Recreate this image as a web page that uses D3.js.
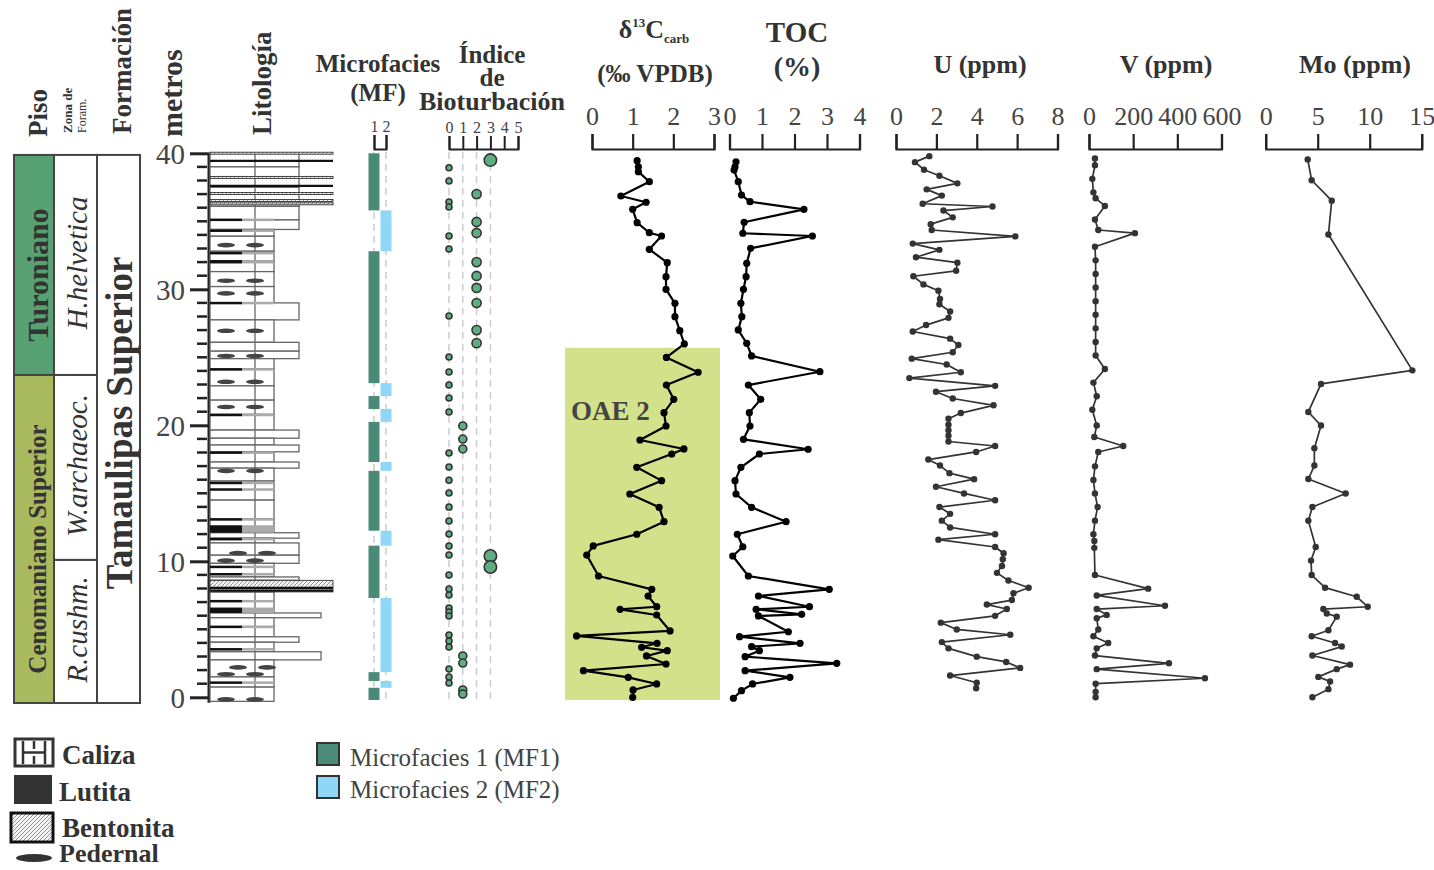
<!DOCTYPE html>
<html>
<head>
<meta charset="utf-8">
<script src="https://cdnjs.cloudflare.com/ajax/libs/d3/7.8.5/d3.min.js"></script>
<style>
  body { margin: 0; background: #fff; }
  svg text { font-family: "Liberation Serif", "Times New Roman", serif; }
</style>
</head>
<body>
<svg id="chart" width="1434" height="870"></svg>
<script>
// ---- data (depth in metres, value) ----
const depthTicks = [0, 10, 20, 30, 40]

const pisos = [
  { name: "Turoniano", top: 39.88, base: 23.7, color: "#57a173" },
  { name: "Cenomaniano Superior", top: 23.7, base: -0.42, color: "#a9b95e" }
]
const zonas = [
  { name: "H.helvetica", top: 39.88, base: 23.7 },
  { name: "W.archaeoc.", top: 23.7, base: 10.1 },
  { name: "R.cushm.", top: 10.1, base: -0.42 }
]
const formaciones = [{ name: "Tamaulipas Superior", top: 39.88, base: -0.42 }]

// limestone beds: [base, top, width class]
const calizaBeds = [
  [39.0, 40.0, 2], [38.25, 39.0, 2], [37.5, 38.25, 2], [36.1, 37.5, 2], [35.1, 36.1, 2],
  [34.4, 35.1, 2], [33.9, 34.4, 1], [32.8, 33.9, 1], [32.1, 32.8, 1], [31.3, 32.1, 1],
  [30.2, 31.3, 1], [29.0, 30.2, 1], [27.75, 29.0, 2], [26.1, 27.75, 1], [25.45, 26.1, 2],
  [24.9, 25.45, 2], [24.15, 24.9, 1], [22.9, 24.15, 1], [21.85, 22.9, 1], [20.8, 21.85, 1],
  [19.65, 20.8, 1], [19.05, 19.65, 2], [18.55, 19.05, 1], [18.05, 18.55, 2], [17.3, 18.05, 1],
  [16.85, 17.3, 2], [15.9, 16.85, 1], [14.5, 15.9, 1], [13.1, 14.5, 1], [12.1, 13.1, 1],
  [11.7, 12.1, 2], [11.35, 11.7, 1], [10.45, 11.35, 2], [9.85, 10.45, 2], [8.85, 9.85, 1],
  [8.6, 8.85, 2], [7.75, 8.6, 1], [7.1, 7.75, 1], [6.2, 7.1, 1], [5.85, 6.2, 3],
  [5.2, 5.85, 1], [4.45, 5.2, 1], [4.05, 4.45, 2], [3.35, 4.05, 1], [2.75, 3.35, 3],
  [1.5, 2.75, 1], [0.75, 1.5, 1], [-0.3, 0.75, 1]
]
// shale bands: [base, top]
const lutitas = [
  [35.05, 35.2], [34.25, 34.4], [32.6, 32.75], [31.9, 32.15], [28.93, 29.08], [24.06, 24.2],
  [20.7, 20.85], [17.93, 18.08], [15.7, 15.85], [15.22, 15.37], [13.02, 13.17], [12.1, 12.65],
  [11.6, 11.72], [9.53, 9.68], [9.0, 9.14], [7.03, 7.16], [6.2, 6.6], [5.13, 5.27],
  [3.48, 3.62], [1.03, 1.17]
]
// bentonite layers: [base, top]
const bentonitas = [
  [39.98, 40.08], [38.2, 38.3], [37.02, 37.12], [36.5, 36.6], [36.22, 36.36], [7.75, 8.6]
]
const bentLines = [39.45, 37.6, 8.05, 7.85]
// chert nodules: [depth, shifted]
const pedernales = [
  [33.25, 0], [30.63, 0], [29.7, 0], [26.95, 0], [25.1, 0], [23.2, 0], [21.35, 0],
  [16.65, 0], [10.6, 1], [10.05, 0], [2.2, 1], [1.7, 0], [-0.15, 0]
]

// microfacies intervals: [base, top, MF]
const microfacies = [
  [35.8, 40.0, 1], [32.8, 35.8, 2], [23.1, 32.8, 1], [22.15, 23.1, 2], [21.2, 22.15, 1],
  [20.25, 21.2, 2], [17.3, 20.25, 1], [16.65, 17.3, 2], [12.25, 16.65, 1], [11.15, 12.25, 2],
  [7.3, 11.15, 1], [1.85, 7.3, 2], [1.2, 1.85, 1], [0.7, 1.2, 2], [-0.2, 0.7, 1]
]

// bioturbation index: [depth, index]
const bioturbacion = [
  [39.5, 3], [38.94, 0], [37.96, 0], [37.0, 2], [36.42, 0], [36.05, 0], [34.95, 2], [34.14, 2],
  [33.92, 0], [32.96, 0], [32.0, 2], [30.98, 2], [30.1, 2], [28.99, 2], [28.04, 0], [27.0, 2],
  [26.04, 2], [25.02, 0], [23.92, 0], [22.96, 0], [22.01, 0], [20.98, 0], [19.95, 1], [18.99, 1],
  [18.26, 1], [17.96, 0], [16.93, 0], [15.96, 0], [15.02, 0], [13.99, 0], [12.96, 0], [12.01, 0],
  [11.13, 0], [10.46, 0], [10.39, 3], [9.58, 3], [8.99, 0], [7.96, 0], [7.52, 0], [6.57, 0],
  [6.27, 0], [5.98, 0], [4.58, 0], [4.14, 0], [3.7, 0], [3.04, 1], [2.52, 1], [2.08, 0],
  [1.49, 0], [1.05, 0], [0.54, 1], [0.24, 1]
]

const oaeZones = [{ name: "OAE 2", base: -0.2, top: 25.7 }]

const d13c = [
  [39.46, 1.11], [39.01, 1.14], [38.65, 1.14], [37.91, 1.41], [36.86, 0.71], [36.40, 1.33],
  [35.88, 1.00], [34.90, 1.11], [34.16, 1.41], [33.92, 1.71], [32.94, 1.41], [31.96, 1.85],
  [30.93, 1.82], [30.0, 1.82], [28.97, 2.04], [27.99, 2.04], [26.96, 2.16], [25.98, 2.27],
  [24.99, 1.83], [23.90, 2.61], [22.96, 1.83], [21.91, 2.01], [20.93, 1.77], [19.95, 1.82],
  [18.92, 1.18], [18.26, 2.26], [17.89, 1.96], [16.91, 1.10], [15.93, 1.71], [14.95, 0.93],
  [13.97, 1.65], [12.91, 1.77], [11.99, 1.10], [11.13, 0.03], [10.46, -0.13], [8.92, 0.16],
  [7.94, 1.47], [7.45, 1.38], [6.66, 1.59], [6.47, 0.69], [6.05, 1.59], [4.88, 1.92],
  [4.51, -0.38], [3.97, 1.60], [3.68, 1.22], [3.43, 1.85], [3.04, 1.34], [2.45, 1.82],
  [1.96, -0.21], [1.47, 0.89], [0.98, 1.59], [0.54, 1.01], [0.0, 1.0]
]
const toc = [
  [39.38, 0.20], [39.01, 0.17], [38.77, 0.14], [37.91, 0.27], [36.93, 0.37], [36.44, 0.63],
  [35.88, 2.29], [34.93, 0.45], [34.12, 0.41], [33.92, 2.55], [33.01, 0.65], [31.91, 0.53],
  [30.93, 0.51], [30.0, 0.43], [28.97, 0.35], [27.99, 0.38], [27.01, 0.27], [26.03, 0.53],
  [25.10, 0.68], [23.94, 2.78], [22.96, 0.58], [21.91, 0.96], [20.93, 0.61], [19.95, 0.63],
  [18.97, 0.43], [18.24, 2.42], [17.89, 0.92], [16.91, 0.35], [15.93, 0.17], [14.95, 0.20],
  [13.97, 0.68], [12.91, 1.74], [11.99, 0.24], [11.07, 0.41], [10.39, 0.10], [8.92, 0.58],
  [7.94, 3.07], [7.45, 0.89], [6.66, 2.46], [6.47, 0.82], [6.10, 2.22], [5.98, 0.89],
  [4.82, 1.81], [4.46, 0.31], [3.97, 2.17], [3.72, 0.68], [3.43, 0.92], [2.99, 0.48],
  [2.50, 3.30], [1.96, 0.48], [1.47, 1.86], [0.98, 0.71], [0.49, 0.37], [-0.07, 0.12]
]
const uranio = [
  [39.79, 1.65], [39.35, 0.94], [38.79, 1.39], [38.35, 2.15], [37.79, 3.04], [37.35, 1.52],
  [36.89, 2.27], [36.29, 1.32], [36.09, 4.78], [35.79, 2.35], [35.29, 2.81], [34.79, 1.72],
  [34.36, 1.77], [33.89, 5.91], [33.36, 0.83], [32.90, 2.15], [32.36, 0.99], [31.96, 3.04],
  [31.36, 2.98], [30.96, 0.86], [30.36, 1.36], [29.90, 2.10], [29.29, 2.18], [28.90, 2.15],
  [28.37, 2.68], [27.90, 2.60], [27.37, 1.49], [26.90, 0.83], [26.37, 2.68], [25.90, 3.09],
  [25.37, 2.81], [24.90, 0.78], [24.47, 2.51], [23.90, 3.21], [23.47, 0.66], [22.90, 4.91],
  [22.47, 1.98], [21.97, 2.81], [21.47, 4.83], [20.90, 3.21], [20.48, 2.60], [20.04, 2.60],
  [19.64, 2.60], [19.24, 2.60], [18.81, 2.60], [18.48, 4.91], [18.04, 3.97], [17.48, 1.60],
  [17.04, 2.18], [16.48, 2.65], [16.04, 3.87], [15.48, 1.98], [14.99, 3.37], [14.49, 4.91],
  [13.99, 2.15], [13.49, 2.68], [12.99, 2.27], [12.49, 2.68], [11.99, 4.91], [11.59, 2.10],
  [11.05, 4.91], [10.59, 5.33], [10.15, 5.29], [9.65, 5.25], [9.15, 5.00], [8.59, 5.57],
  [8.06, 6.57], [7.65, 5.82], [7.15, 5.74], [6.82, 4.50], [6.49, 5.49], [5.99, 4.91],
  [5.49, 2.22], [4.99, 3.01], [4.60, 5.66], [4.06, 2.27], [3.60, 2.60], [2.99, 4.00],
  [2.60, 5.46], [2.16, 6.15], [1.60, 2.68], [1.07, 4.00], [0.66, 3.97]
]
const vanadio = [
  [39.62, 27], [39.12, 27], [38.12, 15], [37.13, 20], [36.69, 30], [36.13, 72], [35.13, 27],
  [34.36, 42], [34.13, 208], [33.13, 27], [32.13, 30], [31.13, 30], [30.13, 30], [29.13, 30],
  [28.13, 30], [27.13, 30], [26.13, 30], [25.13, 30], [24.14, 72], [23.14, 20], [22.14, 35],
  [21.14, 15], [19.98, 35], [19.14, 24], [18.48, 155], [18.04, 42], [16.98, 27], [15.98, 20],
  [14.99, 27], [13.99, 39], [12.99, 27], [11.99, 20], [11.49, 24], [10.99, 24], [8.99, 27],
  [7.99, 268], [7.49, 35], [6.73, 344], [6.49, 35], [6.06, 80], [5.82, 35], [4.99, 42],
  [4.49, 20], [3.99, 87], [3.60, 35], [3.07, 27], [2.50, 362], [2.07, 35], [1.40, 525],
  [1.00, 30], [0.40, 30], [0.0, 30]
]
const molibdeno = [
  [39.55, 4.04], [38.02, 4.42], [36.52, 6.35], [34.03, 6.03], [24.04, 14.1], [23.04, 5.32],
  [20.98, 4.10], [19.98, 5.32], [18.31, 4.68], [17.04, 4.68], [16.05, 4.10], [14.99, 7.69],
  [13.99, 4.49], [12.99, 4.10], [11.05, 4.81], [10.05, 4.36], [8.99, 4.42], [8.06, 5.71],
  [7.39, 8.75], [6.66, 9.81], [6.49, 5.54], [6.16, 5.87], [5.93, 6.83], [4.93, 6.03],
  [4.49, 4.42], [3.99, 6.67], [3.73, 7.31], [3.07, 4.49], [2.40, 8.11], [2.07, 6.83],
  [1.50, 5.06], [1.16, 6.19], [0.60, 6.03], [0.0, 4.49]
]

const litoLegend = ["Caliza", "Lutita", "Bentonita", "Pedernal"]
const mfLegend = [{ mf: 1, label: "Microfacies 1 (MF1)" }, { mf: 2, label: "Microfacies 2 (MF2)" }]

// ---- setup ----
const svg = d3.select("#chart")
const y = d3.scaleLinear().domain([0, 40]).range([697.3, 153.3])
const ink = "#333"
const mfColor = { 1: "#4c8a78", 2: "#8fd7f7" }
const plain = d => String(d)

const defs = svg.append("defs")
const pat = defs.append("pattern").attr("id", "bent")
  .attr("patternUnits", "userSpaceOnUse").attr("width", 4).attr("height", 4)
pat.append("rect").attr("width", 4).attr("height", 4).attr("fill", "#f4f4f4")
pat.append("path").attr("d", "M0,4 L4,0").attr("stroke", "#666").attr("stroke-width", 0.7)

function vtext(g, x, yy, txt, size, opts = {}) {
  return g.append("text")
    .attr("transform", `translate(${x},${yy}) rotate(-90)`)
    .attr("text-anchor", opts.anchor || "middle")
    .attr("dominant-baseline", opts.baseline || "central")
    .attr("font-size", size)
    .attr("font-weight", opts.weight || "bold")
    .attr("font-style", opts.style || "normal")
    .attr("fill", opts.fill || ink)
    .text(txt)
}

function htext(x, yy, txt, size, opts = {}) {
  return svg.append("text")
    .attr("x", x).attr("y", yy)
    .attr("text-anchor", opts.anchor || "middle")
    .attr("font-size", size)
    .attr("font-weight", opts.weight || "bold")
    .attr("fill", opts.fill || ink)
    .text(txt)
}

// ---- left columns ----
const left = svg.append("g")
left.selectAll("rect.piso").data(pisos).join("rect")
  .attr("x", 14).attr("width", 40)
  .attr("y", d => y(d.top)).attr("height", d => y(d.base) - y(d.top))
  .attr("fill", d => d.color).attr("stroke", "#444").attr("stroke-width", 2)
pisos.forEach(d => vtext(left, 37, (y(d.top) + y(d.base)) / 2 + 10, d.name, d.name.length > 12 ? 25 : 30))

left.selectAll("rect.zona").data(zonas).join("rect")
  .attr("x", 54).attr("width", 43)
  .attr("y", d => y(d.top)).attr("height", d => y(d.base) - y(d.top))
  .attr("fill", "#fff").attr("stroke", "#444").attr("stroke-width", 2)
zonas.forEach(d => vtext(left, 77, (y(d.top) + y(d.base)) / 2 - 2, d.name, 29, { weight: "normal", style: "italic" }))

left.selectAll("rect.form").data(formaciones).join("rect")
  .attr("x", 97).attr("width", 43)
  .attr("y", d => y(d.top)).attr("height", d => y(d.base) - y(d.top))
  .attr("fill", "#fff").attr("stroke", "#444").attr("stroke-width", 2)
formaciones.forEach(d => vtext(left, 119, (y(d.top) + y(d.base)) / 2 - 6, d.name, 37))

// header labels
vtext(svg, 38, 137, "Piso", 27, { anchor: "start" })
vtext(svg, 67, 133, "Zona de", 13, { anchor: "start", weight: "bold" })
vtext(svg, 82, 133, "Foram.", 12, { anchor: "start", weight: "normal" })
vtext(svg, 122, 134, "Formación", 27, { anchor: "start" })
vtext(svg, 171, 137, "metros", 30, { anchor: "start" })
vtext(svg, 262, 135, "Litología", 27, { anchor: "start" })

// ---- depth axis ----
const dAxis = svg.append("g").attr("transform", "translate(209,0)")
  .call(d3.axisLeft(y).tickValues(depthTicks).tickSize(19).tickSizeOuter(0).tickPadding(5).tickFormat(plain))
dAxis.select(".domain").attr("stroke", "#222").attr("stroke-width", 3)
  .attr("d", `M0,${y(40)}V${y(-0.4)}`)
dAxis.selectAll(".tick line").attr("stroke", "#222").attr("stroke-width", 3)
dAxis.selectAll("text").attr("font-size", 29).attr("fill", "#444")
  .attr("font-family", "Liberation Serif").attr("dy", "0.34em")
svg.append("g").selectAll("line")
  .data(d3.range(1, 40).filter(d => d % 10 !== 0)).join("line")
  .attr("x1", 197).attr("x2", 207).attr("y1", d => y(d)).attr("y2", d => y(d))
  .attr("stroke", "#222").attr("stroke-width", 2.5)

// ---- lithology ----
const wX = { 1: 274, 2: 299, 3: 321, 4: 333 }
const litX0 = 210, litMid = 255
const lit = svg.append("g")
lit.selectAll("rect.cal").data(calizaBeds).join("rect")
  .attr("x", litX0).attr("y", d => y(d[1]))
  .attr("width", d => wX[d[2]] - litX0).attr("height", d => y(d[0]) - y(d[1]))
  .attr("fill", "#fff").attr("stroke", "#666").attr("stroke-width", 1.3)
lit.selectAll("line.mid").data(calizaBeds).join("line")
  .attr("x1", litMid).attr("x2", litMid)
  .attr("y1", d => y(d[1])).attr("y2", d => y(d[0]))
  .attr("stroke", "#666").attr("stroke-width", 1.3)
lit.selectAll("rect.lutg").data(lutitas).join("rect")
  .attr("x", 242).attr("width", 32)
  .attr("y", d => y(d[1])).attr("height", d => Math.max(2.5, y(d[0]) - y(d[1])))
  .attr("fill", "#aaa")
lit.selectAll("rect.lut").data(lutitas).join("rect")
  .attr("x", litX0).attr("width", 32)
  .attr("y", d => y(d[1])).attr("height", d => Math.max(2.5, y(d[0]) - y(d[1])))
  .attr("fill", "#111")
lit.selectAll("rect.ben").data(bentonitas).join("rect")
  .attr("x", litX0).attr("width", wX[4] - litX0)
  .attr("y", d => y(d[1])).attr("height", d => Math.max(2, y(d[0]) - y(d[1])))
  .attr("fill", "url(#bent)").attr("stroke", "#333").attr("stroke-width", 0.9)
lit.selectAll("line.bl").data(bentLines).join("line")
  .attr("x1", litX0).attr("x2", wX[4]).attr("y1", d => y(d)).attr("y2", d => y(d))
  .attr("stroke", "#111").attr("stroke-width", 2.2)
pedernales.forEach(d => {
  [226, 255].forEach(cx => {
    lit.append("ellipse").attr("cx", cx + d[1] * 12).attr("cy", y(d[0]))
      .attr("rx", 9).attr("ry", 2.3).attr("fill", "#444")
  })
})

// ---- microfacies ----
const mfx = d3.scaleLinear().domain([1, 2]).range([374, 386])
const mfAxis = svg.append("g").attr("transform", "translate(0,149)")
  .call(d3.axisTop(mfx).tickValues([1, 2]).tickSize(14).tickSizeOuter(14).tickPadding(3).tickFormat(plain))
mfAxis.selectAll("path,line").attr("stroke", "#222").attr("stroke-width", 2)
mfAxis.selectAll("text").attr("font-size", 16).attr("fill", "#444").attr("font-family", "Liberation Serif")
svg.append("g").selectAll("line").data([1, 2]).join("line")
  .attr("x1", d => mfx(d)).attr("x2", d => mfx(d)).attr("y1", 152).attr("y2", 700)
  .attr("stroke", "#ccc").attr("stroke-width", 1.5).attr("stroke-dasharray", "7,5")
svg.append("g").selectAll("rect").data(microfacies).join("rect")
  .attr("x", d => mfx(d[2]) - 5.5).attr("width", 11)
  .attr("y", d => y(d[1])).attr("height", d => y(d[0]) - y(d[1]))
  .attr("fill", d => mfColor[d[2]])

// ---- bioturbation ----
const bx = d3.scaleLinear().domain([0, 5]).range([449, 518])
const br = d3.scaleLinear().domain([0, 1, 2, 3]).range([3, 4, 4.6, 6.2])
const bAxis = svg.append("g").attr("transform", "translate(0,149)")
  .call(d3.axisTop(bx).tickValues(d3.range(0, 6)).tickSize(13).tickSizeOuter(13).tickPadding(3).tickFormat(plain))
bAxis.selectAll("path,line").attr("stroke", "#222").attr("stroke-width", 2)
bAxis.selectAll("text").attr("font-size", 16).attr("fill", "#444").attr("font-family", "Liberation Serif")
svg.append("g").selectAll("line").data([0, 1, 2, 3]).join("line")
  .attr("x1", d => bx(d)).attr("x2", d => bx(d)).attr("y1", 152).attr("y2", 700)
  .attr("stroke", "#ccc").attr("stroke-width", 1.5).attr("stroke-dasharray", "7,5")
svg.append("g").selectAll("circle").data(bioturbacion).join("circle")
  .attr("cx", d => bx(d[1])).attr("cy", d => y(d[0])).attr("r", d => br(d[1]))
  .attr("fill", "#5fae82").attr("stroke", "#333").attr("stroke-width", 1.6)

// ---- OAE 2 band ----
svg.append("g").selectAll("rect").data(oaeZones).join("rect")
  .attr("x", 565).attr("width", 155)
  .attr("y", d => y(d.top)).attr("height", d => y(d.base) - y(d.top))
  .attr("fill", "#d3e18b")
oaeZones.forEach(d => htext(571, y(d.top) + 72, d.name, 27, { anchor: "start", fill: "#444" }))

// ---- curves ----
function curve(data, x, ticks, opt) {
  const g = svg.append("g")
  const ax = g.append("g").attr("transform", "translate(0,149)")
    .call(d3.axisTop(x).tickValues(ticks).tickSize(15).tickSizeOuter(15).tickPadding(9).tickFormat(plain))
  ax.selectAll("path,line").attr("stroke", "#222").attr("stroke-width", 2.2)
  ax.selectAll("text").attr("font-size", 26).attr("fill", "#444").attr("font-family", "Liberation Serif")
  const line = d3.line().x(d => x(d[1])).y(d => y(d[0]))
  g.append("path").datum(data).attr("d", line)
    .attr("fill", "none").attr("stroke", opt.color).attr("stroke-width", opt.lw)
    .attr("stroke-linejoin", "round")
  g.selectAll("circle").data(data).join("circle")
    .attr("cx", d => x(d[1])).attr("cy", d => y(d[0])).attr("r", opt.r)
    .attr("fill", opt.color)
}

curve(d13c, d3.scaleLinear().domain([0, 3]).range([592, 714]), [0, 1, 2, 3], { color: "#000", lw: 2.2, r: 3.6 })
curve(toc, d3.scaleLinear().domain([0, 4]).range([729.5, 859.5]), [0, 1, 2, 3, 4], { color: "#000", lw: 2.2, r: 3.6 })
curve(uranio, d3.scaleLinear().domain([0, 8]).range([896, 1057.5]), [0, 2, 4, 6, 8], { color: "#333", lw: 1.7, r: 3.2 })
curve(vanadio, d3.scaleLinear().domain([0, 600]).range([1089, 1221.5]), [0, 200, 400, 600], { color: "#333", lw: 1.7, r: 3.2 })
curve(molibdeno, d3.scaleLinear().domain([0, 15]).range([1265.7, 1421.7]), [0, 5, 10, 15], { color: "#333", lw: 1.7, r: 3.2 })

// ---- titles ----
htext(378, 72, "Microfacies", 25)
htext(378, 101, "(MF)", 25)
htext(492, 63, "Índice", 25)
htext(492, 86, "de", 25)
htext(492, 110, "Bioturbación", 26)

const dt = svg.append("text").attr("x", 654).attr("y", 38).attr("text-anchor", "middle")
  .attr("font-weight", "bold").attr("fill", ink)
dt.append("tspan").attr("font-size", 26).text("δ")
dt.append("tspan").attr("font-size", 13).attr("dy", -11).text("13")
dt.append("tspan").attr("font-size", 26).attr("dy", 11).text("C")
dt.append("tspan").attr("font-size", 13).attr("dy", 5).text("carb")
htext(655, 82, "(‰ VPDB)", 25)
htext(797, 42, "TOC", 29)
htext(797, 76, "(%)", 28)
htext(980, 73, "U (ppm)", 26)
htext(1166, 73, "V (ppm)", 26)
htext(1355, 73, "Mo (ppm)", 26)

// ---- legends ----
const lg = svg.append("g")
// caliza icon
lg.append("rect").attr("x", 15).attr("y", 739).attr("width", 38).attr("height", 27)
  .attr("fill", "#fff").attr("stroke", ink).attr("stroke-width", 3)
lg.append("path").attr("d", "M23,741V764M45,741V764M23,752.5H45M34,741V749M34,756V764")
  .attr("stroke", ink).attr("stroke-width", 2.5).attr("fill", "none")
// lutita icon
lg.append("rect").attr("x", 14).attr("y", 775).attr("width", 38).attr("height", 29).attr("fill", ink)
// bentonita icon
lg.append("rect").attr("x", 11).attr("y", 813).attr("width", 42).attr("height", 29)
  .attr("fill", "url(#bent)").attr("stroke", "#111").attr("stroke-width", 3)
// pedernal icon
lg.append("ellipse").attr("cx", 34).attr("cy", 858).attr("rx", 18).attr("ry", 4).attr("fill", ink)
const litoY = [764, 801, 837, 862]
litoLegend.forEach((t, i) => htext(i === 1 || i === 3 ? 59 : 62, litoY[i], t, i === 3 ? 26 : 27, { anchor: "start" }))

lg.selectAll("rect.mf").data(mfLegend).join("rect")
  .attr("x", 317).attr("y", (d, i) => 743 + i * 33).attr("width", 22).attr("height", 22)
  .attr("fill", d => mfColor[d.mf]).attr("stroke", ink).attr("stroke-width", 2)
mfLegend.forEach((d, i) => htext(350, 766 + i * 32, d.label, 25, { anchor: "start", weight: "normal", fill: "#444" }))
</script>
</body>
</html>
